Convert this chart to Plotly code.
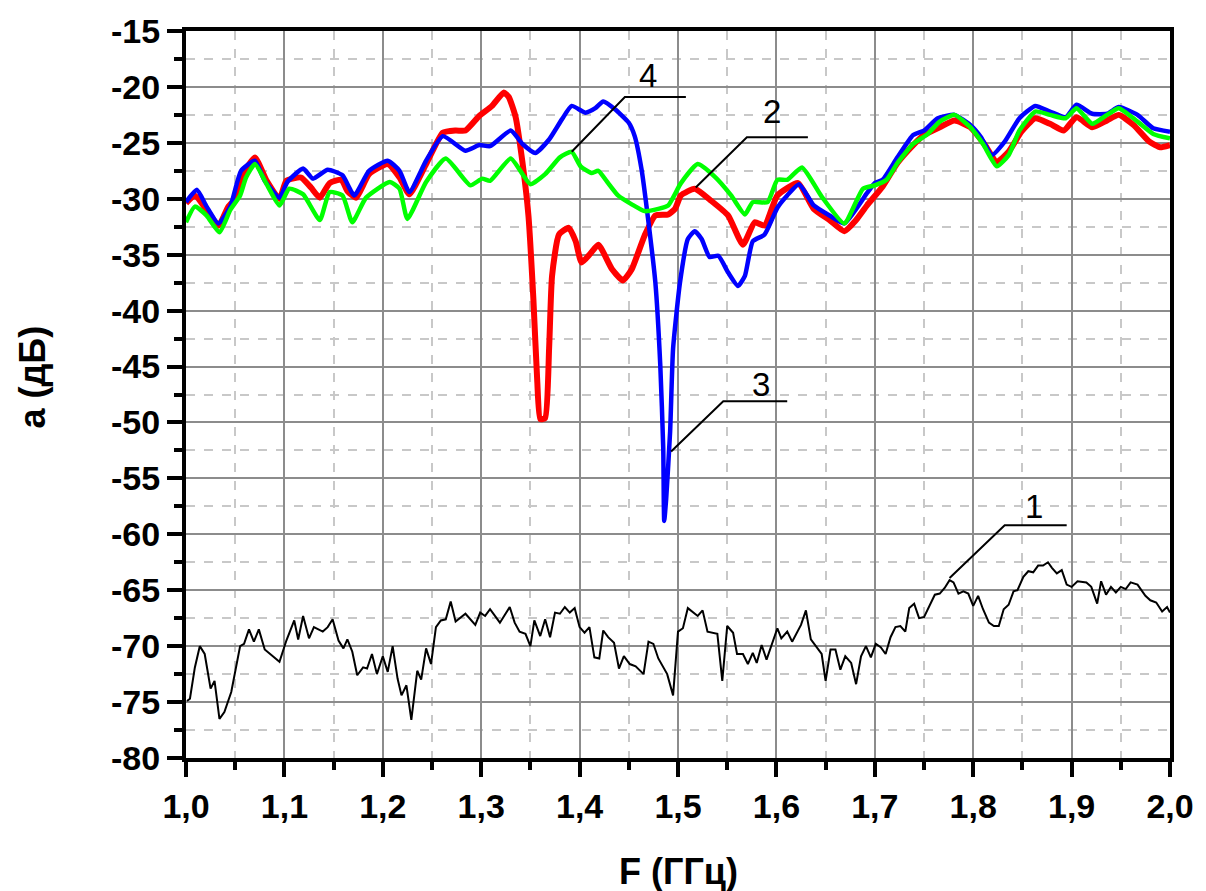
import plotly.graph_objects as go

# ---- Curve 1 (black, reference level) ----
f1 = [1.001, 1.004, 1.009, 1.014, 1.019, 1.025, 1.029, 1.034, 1.039, 1.046, 1.055, 1.059, 1.064, 1.069,
      1.074, 1.080, 1.095, 1.102, 1.110, 1.114, 1.119, 1.125, 1.130, 1.139, 1.144, 1.149, 1.155, 1.160,
      1.164, 1.169, 1.174, 1.180, 1.184, 1.189, 1.194, 1.200, 1.205, 1.210, 1.215, 1.219, 1.224, 1.229,
      1.235, 1.239, 1.244, 1.249, 1.254, 1.259, 1.264, 1.269, 1.274, 1.284, 1.294, 1.299, 1.304, 1.309,
      1.319, 1.329, 1.334, 1.339, 1.345, 1.350, 1.354, 1.360, 1.365, 1.370, 1.375, 1.380, 1.385, 1.390,
      1.395, 1.400, 1.405, 1.410, 1.415, 1.420, 1.424, 1.429, 1.435, 1.440, 1.445, 1.451, 1.457, 1.465,
      1.470, 1.475, 1.480, 1.489, 1.495, 1.500, 1.505, 1.510, 1.520, 1.525, 1.530, 1.540, 1.545, 1.550,
      1.556, 1.560, 1.566, 1.571, 1.576, 1.580, 1.585, 1.590, 1.601, 1.605, 1.611, 1.616, 1.625, 1.630,
      1.635, 1.642, 1.646, 1.650, 1.655, 1.660, 1.665, 1.670, 1.676, 1.681, 1.686, 1.691, 1.696, 1.701,
      1.706, 1.711, 1.716, 1.721, 1.726, 1.731, 1.735, 1.740, 1.745, 1.750, 1.756, 1.761, 1.766, 1.771,
      1.776, 1.780, 1.785, 1.790, 1.795, 1.800, 1.805, 1.810, 1.816, 1.821, 1.826, 1.831, 1.836, 1.841,
      1.845, 1.851, 1.856, 1.861, 1.866, 1.871, 1.876, 1.880, 1.885, 1.890, 1.895, 1.900, 1.906, 1.915,
      1.920, 1.926, 1.930, 1.935, 1.940, 1.945, 1.950, 1.955, 1.960, 1.967, 1.975, 1.980, 1.986, 1.992,
      1.997, 2.000]
a1 = [-74.9, -74.7, -71.9, -70.0, -70.7, -73.8, -73.1, -76.5, -75.9, -74.1, -70.0, -69.8, -68.5, -69.6,
      -68.5, -70.3, -71.4, -69.5, -67.7, -69.4, -67.3, -69.3, -68.3, -68.7, -68.3, -67.6, -69.5, -70.2,
      -69.4, -70.5, -72.6, -71.9, -72.0, -70.7, -72.5, -70.9, -72.3, -70.0, -72.9, -74.4, -73.5, -76.6,
      -72.2, -73.0, -70.2, -71.6, -68.3, -67.7, -67.6, -66.0, -67.8, -67.1, -68.1, -67.0, -67.3, -66.7,
      -67.9, -66.5, -67.9, -68.7, -68.9, -70.0, -67.7, -69.1, -67.6, -69.2, -67.0, -67.1, -66.5, -67.0,
      -66.6, -68.3, -68.8, -68.3, -71.0, -71.1, -68.6, -69.2, -69.7, -72.0, -70.9, -71.6, -71.8, -72.5,
      -69.6, -69.8, -71.1, -72.5, -74.4, -68.7, -68.4, -66.6, -67.3, -66.8, -68.7, -68.9, -73.1, -68.2,
      -68.8, -70.7, -70.7, -71.6, -70.6, -71.5, -69.9, -71.2, -68.4, -69.3, -68.7, -69.6, -68.1, -66.8,
      -69.4, -70.3, -70.7, -73.1, -70.3, -70.3, -72.1, -70.9, -71.5, -73.4, -70.9, -70.0, -71.0, -69.8,
      -70.1, -70.7, -69.2, -68.3, -68.2, -68.7, -66.6, -66.2, -67.5, -67.4, -66.3, -65.4, -65.3, -64.8,
      -64.1, -64.3, -65.3, -65.1, -65.3, -66.4, -65.5, -66.7, -67.9, -68.2, -68.2, -66.7, -66.3, -65.1,
      -65.0, -63.8, -63.3, -63.4, -62.8, -62.8, -62.5, -63.0, -63.5, -63.2, -64.5, -64.7, -64.2, -64.3,
      -64.7, -66.2, -64.2, -65.4, -64.7, -65.2, -64.7, -64.9, -64.3, -64.5, -65.5, -65.9, -66.1, -66.9,
      -66.5, -67.0]

# ---- Curve 2 (red) ----
f2 = [1.000, 1.009, 1.021, 1.033, 1.043, 1.053, 1.058, 1.070, 1.082, 1.095, 1.102, 1.117, 1.127, 1.136,
      1.146, 1.158, 1.164, 1.173, 1.186, 1.205, 1.217, 1.227, 1.244, 1.261, 1.274, 1.284, 1.298, 1.311,
      1.323, 1.328, 1.335, 1.342, 1.348, 1.353, 1.357, 1.360, 1.365, 1.369, 1.372, 1.379, 1.389, 1.396,
      1.402, 1.411, 1.419, 1.433, 1.444, 1.453, 1.466, 1.477, 1.490, 1.497, 1.503, 1.517, 1.534, 1.551,
      1.566, 1.578, 1.588, 1.601, 1.622, 1.638, 1.654, 1.669, 1.681, 1.692, 1.708, 1.723, 1.739, 1.750,
      1.766, 1.781, 1.797, 1.812, 1.824, 1.836, 1.849, 1.863, 1.878, 1.892, 1.905, 1.921, 1.936, 1.948,
      1.963, 1.979, 1.990, 2.000]
a2 = [-30.4, -29.7, -31.0, -32.4, -30.7, -29.7, -27.8, -26.3, -28.4, -30.0, -28.4, -28.1, -29.0, -29.9,
      -28.6, -28.3, -29.3, -29.9, -27.8, -26.9, -28.1, -29.6, -26.9, -24.1, -23.9, -23.9, -22.6, -21.7,
      -20.5, -20.9, -22.7, -26.8, -31.5, -38.9, -46.4, -49.7, -49.6, -43.4, -36.9, -33.2, -32.6, -33.8,
      -35.7, -34.9, -34.1, -36.3, -37.3, -36.3, -33.3, -31.5, -31.4, -30.9, -29.7, -29.1, -30.2, -31.5,
      -34.1, -32.1, -32.4, -29.7, -28.6, -30.9, -31.9, -32.9, -31.9, -30.6, -28.9, -26.8, -25.2, -24.3,
      -23.6, -23.0, -23.6, -25.2, -26.7, -25.8, -24.0, -22.8, -23.3, -23.9, -22.7, -23.6, -23.0, -22.5,
      -23.4, -24.9, -25.4, -25.2]

# ---- Curve 3 (blue) ----
f3 = [1.000, 1.011, 1.021, 1.033, 1.045, 1.056, 1.070, 1.080, 1.095, 1.103, 1.119, 1.129, 1.144, 1.159,
      1.171, 1.186, 1.205, 1.217, 1.227, 1.244, 1.261, 1.284, 1.298, 1.309, 1.330, 1.342, 1.355, 1.369,
      1.382, 1.392, 1.406, 1.416, 1.424, 1.436, 1.450, 1.456, 1.463, 1.470, 1.477, 1.482, 1.485, 1.486,
      1.488, 1.492, 1.495, 1.502, 1.510, 1.517, 1.524, 1.532, 1.541, 1.551, 1.561, 1.568, 1.576, 1.588,
      1.601, 1.611, 1.623, 1.638, 1.654, 1.669, 1.692, 1.700, 1.708, 1.723, 1.739, 1.750, 1.764, 1.781,
      1.797, 1.808, 1.819, 1.832, 1.847, 1.863, 1.878, 1.894, 1.905, 1.921, 1.936, 1.948, 1.967, 1.983,
      2.000]
a3 = [-30.3, -29.2, -30.7, -32.2, -30.7, -27.5, -26.6, -28.4, -29.9, -28.5, -27.3, -28.2, -27.4, -27.9,
      -29.7, -27.5, -26.6, -27.5, -29.4, -26.6, -24.4, -25.7, -25.2, -25.3, -23.9, -25.1, -25.9, -24.7,
      -22.9, -21.7, -22.3, -21.9, -21.3, -22.0, -23.2, -24.4, -27.4, -32.1, -37.5, -44.9, -52.3, -58.8,
      -56.8, -50.8, -43.4, -37.5, -33.6, -32.9, -33.6, -35.2, -35.1, -36.6, -37.8, -36.9, -33.8, -33.2,
      -30.8, -29.7, -28.7, -30.6, -31.5, -32.2, -29.5, -28.6, -28.3, -26.3, -24.3, -23.9, -22.8, -22.5,
      -23.4, -24.5, -26.1, -24.9, -22.8, -21.7, -22.2, -22.7, -21.6, -22.4, -22.4, -21.8, -22.5, -23.7,
      -24.0]

# ---- Curve 4 (green) ----
f4 = [1.000, 1.009, 1.021, 1.034, 1.045, 1.055, 1.061, 1.070, 1.082, 1.095, 1.105, 1.119, 1.136, 1.146,
      1.159, 1.169, 1.183, 1.207, 1.217, 1.225, 1.244, 1.264, 1.289, 1.301, 1.309, 1.330, 1.350, 1.365,
      1.380, 1.392, 1.401, 1.412, 1.419, 1.429, 1.439, 1.453, 1.466, 1.480, 1.490, 1.503, 1.520, 1.537,
      1.554, 1.568, 1.576, 1.591, 1.601, 1.611, 1.626, 1.646, 1.669, 1.688, 1.700, 1.712, 1.723, 1.739,
      1.754, 1.766, 1.781, 1.797, 1.810, 1.824, 1.836, 1.847, 1.863, 1.878, 1.894, 1.905, 1.921, 1.936,
      1.948, 1.967, 1.983, 2.000]
a4 = [-32.1, -30.7, -31.5, -33.0, -31.0, -29.7, -28.1, -26.9, -28.7, -30.6, -29.1, -29.6, -31.9, -29.4,
      -29.7, -32.1, -29.9, -28.5, -29.1, -31.8, -28.5, -26.4, -28.8, -28.2, -28.4, -26.4, -28.7, -27.8,
      -26.3, -25.8, -27.1, -27.7, -27.5, -28.6, -29.7, -30.5, -31.1, -30.9, -30.6, -28.6, -26.9, -28.0,
      -29.7, -31.4, -30.3, -30.3, -28.3, -28.3, -27.2, -29.8, -32.2, -29.1, -28.8, -28.3, -26.8, -25.1,
      -24.2, -23.1, -22.5, -23.6, -25.1, -27.1, -26.1, -23.9, -22.2, -22.5, -22.8, -21.9, -23.3, -22.5,
      -21.9, -23.1, -24.2, -24.6]

# ---- Curve labels with leader lines ----
label_text = ["1", "2", "3", "4"]
label_x = [1.862, 1.596, 1.584, 1.470]
label_y = [-57.5, -22.2, -46.6, -19.0]
leader_tip_x = [1.776, 1.518, 1.493, 1.392]
leader_tip_y = [-63.9, -29.0, -52.6, -25.8]
leader_knee_x = [1.832, 1.570, 1.546, 1.446]
leader_end_x = [1.895, 1.632, 1.611, 1.508]
leader_y = [-59.2, -24.5, -48.1, -20.9]

# ---- Axis ticks ----
x_ticks = [1.0, 1.1, 1.2, 1.3, 1.4, 1.5, 1.6, 1.7, 1.8, 1.9, 2.0]
x_tick_text = ["1,0", "1,1", "1,2", "1,3", "1,4", "1,5", "1,6", "1,7", "1,8", "1,9", "2,0"]
y_ticks = [-80, -75, -70, -65, -60, -55, -50, -45, -40, -35, -30, -25, -20, -15]
y_tick_text = ["-80", "-75", "-70", "-65", "-60", "-55", "-50", "-45", "-40", "-35", "-30", "-25", "-20", "-15"]

FONT = "Liberation Sans, Arial, sans-serif"

fig = go.Figure()
fig.add_trace(go.Scatter(x=f1, y=a1, mode="lines", line=dict(color="black", width=2), hoverinfo="skip"))
fig.add_trace(go.Scatter(x=f2, y=a2, mode="lines", line=dict(color="#ff0000", width=6, shape="spline", smoothing=0.5),
                         hoverinfo="skip"))
fig.add_trace(go.Scatter(x=f3, y=a3, mode="lines", line=dict(color="#0000ff", width=4.5, shape="spline", smoothing=0.5),
                         hoverinfo="skip"))
fig.add_trace(go.Scatter(x=f4, y=a4, mode="lines", line=dict(color="#00ff00", width=4.5, shape="spline", smoothing=0.5),
                         hoverinfo="skip"))

for i in range(len(label_text)):
    fig.add_trace(go.Scatter(
        x=[leader_tip_x[i], leader_knee_x[i], leader_end_x[i]],
        y=[leader_tip_y[i], leader_y[i], leader_y[i]],
        mode="lines", line=dict(color="black", width=2), hoverinfo="skip"))
    fig.add_annotation(x=label_x[i], y=label_y[i], text=label_text[i], showarrow=False,
                       xanchor="center", yanchor="middle",
                       font=dict(family=FONT, size=33, color="black"))

fig.add_annotation(xref="paper", yref="paper", x=0.5, y=0, yshift=-113, text="F (ГГц)",
                   showarrow=False, xanchor="center", yanchor="middle",
                   font=dict(family=FONT, size=36, color="black", weight="bold"))
fig.add_annotation(xref="paper", yref="paper", x=0, y=0.5, xshift=-154, yshift=17, text="a (дБ)",
                   textangle=-90, showarrow=False, xanchor="center", yanchor="middle",
                   font=dict(family=FONT, size=36, color="black", weight="bold"))

axis_common = dict(
    ticks="outside", ticklen=15, tickwidth=4, tickcolor="black",
    showline=True, linewidth=4, linecolor="black", mirror=True,
    showgrid=True, gridcolor="#8c8c8c", gridwidth=2, zeroline=False,
    tickfont=dict(family=FONT, size=34, color="black", weight="bold"),
)

fig.update_xaxes(range=[1.0, 2.0], tickmode="array", tickvals=x_ticks, ticktext=x_tick_text,
                 minor=dict(tick0=1.0, dtick=0.05, ticks="outside", ticklen=8, tickwidth=4, tickcolor="black",
                            showgrid=True, gridcolor="#c8c8c8", griddash="dash", gridwidth=2),
                 **axis_common)
fig.update_yaxes(range=[-80, -15], tickmode="array", tickvals=y_ticks, ticktext=y_tick_text,
                 minor=dict(tick0=-80, dtick=2.5, ticks="outside", ticklen=8, tickwidth=4, tickcolor="black",
                            showgrid=True, gridcolor="#c8c8c8", griddash="dash", gridwidth=2),
                 **axis_common)

fig.update_layout(
    width=1206, height=891,
    margin=dict(l=186, r=33, t=27, b=133),
    paper_bgcolor="white", plot_bgcolor="white",
    showlegend=False,
    font=dict(family=FONT, color="black"),
)

fig.write_html("out.html", config={"displayModeBar": False},
               post_script="document.body.style.margin='0';document.body.style.overflow='hidden';")
